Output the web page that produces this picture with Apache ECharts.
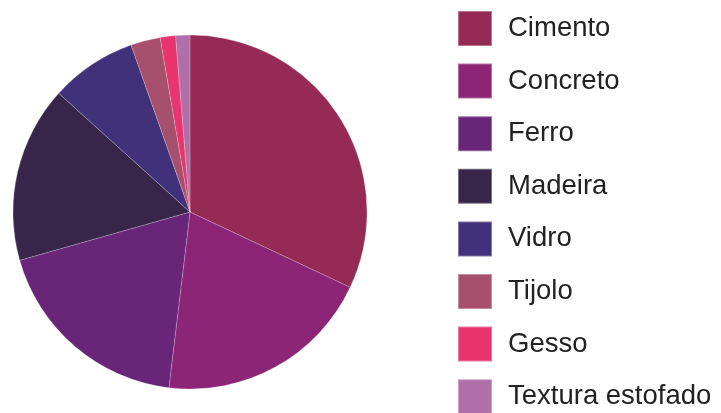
<!DOCTYPE html>
<html>
<head>
<meta charset="utf-8">
<script src="https://cdn.jsdelivr.net/npm/echarts@6/dist/echarts.min.js"></script>
<style>
  html, body { margin: 0; padding: 0; background: #ffffff; }
  #chart { width: 721px; height: 413px; }
</style>
</head>
<body>
<div id="chart"></div>
<script>
// Material shares (percent)
const categories = ['Cimento', 'Concreto', 'Ferro', 'Madeira', 'Vidro', 'Tijolo', 'Gesso', 'Textura estofado'];
const shares = [32.0, 19.9, 18.7, 16.1, 7.9, 2.7, 1.4, 1.3];
const colors = ['#952a55', '#8d2577', '#692578', '#37264a', '#41307a', '#a6506d', '#e8356f', '#b06fa9'];

const chart = echarts.init(document.getElementById('chart'), null, { renderer: 'canvas' });

chart.setOption({
  animation: false,
  color: colors,
  legend: {
    orient: 'vertical',
    left: 452,
    top: 5,
    height: 600,
    itemWidth: 34,
    itemHeight: 35,
    itemGap: 15.6,
    icon: 'rect',
    textStyle: {
      fontFamily: 'Liberation Sans, Arial, sans-serif',
      fontSize: 27.5,
      color: '#222222',
      padding: [0, 0, 0, 11]
    },
    data: categories
  },
  series: [{
    type: 'pie',
    center: [190, 212],
    radius: [0, 177],
    startAngle: 90,
    clockwise: true,
    label: { show: false },
    labelLine: { show: false },
    emphasis: { disabled: true },
    itemStyle: { borderColor: 'rgba(255,255,255,0.35)', borderWidth: 0.6 },
    data: categories.map((name, i) => ({ name, value: shares[i] }))
  }]
});
</script>
</body>
</html>
